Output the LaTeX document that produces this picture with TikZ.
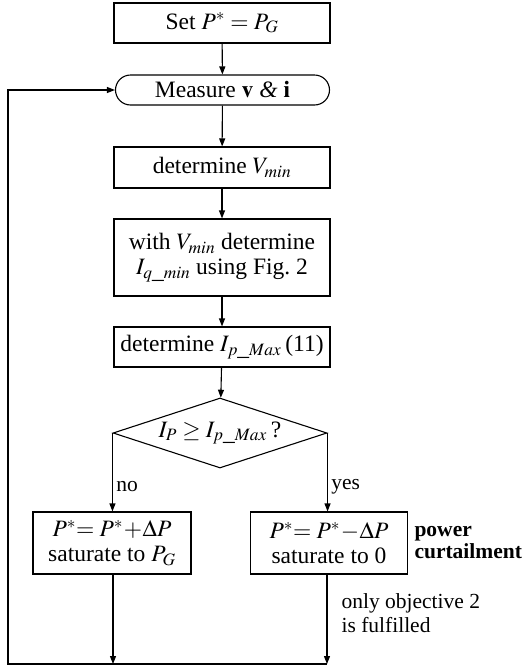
\documentclass[tikz,border=0pt]{standalone}
\usepackage{mathptmx}
\usepackage[no-math]{fontspec}
\setmainfont{Liberation Serif}
\usepackage{tikz}
\usetikzlibrary{arrows.meta, positioning, shapes.geometric}

\begin{document}
\begin{tikzpicture}[
  x=1pt, y=-1pt,
  stepbox/.style={rectangle, draw, line width=1.1pt, minimum width=216pt,
    minimum height=40pt, inner sep=2pt, align=center,
    font=\fontsize{23.5}{25}\selectfont},
  terminal/.style={stepbox, rounded corners=15pt, minimum width=214pt, minimum height=30pt},
  decision/.style={diamond, draw, line width=1.1pt, inner sep=0pt,
    minimum width=214pt, minimum height=70pt},
  arr/.style={-{Triangle[length=8pt,width=6pt]}, line width=1.1pt},
  lbl/.style={font=\fontsize{21.5}{24}\selectfont, align=left},
]

\useasboundingbox (0,0) rectangle (529,670);

\node[stepbox] (set) at (222,23) {Set $P^{*}=P_{G}$};
\node[terminal] (measure) at (222.5,90) {Measure $\mathbf{v}$ \textit{\&} $\mathbf{i}$};
\node[stepbox, minimum height=41pt] (vmin) at (222,167.5) {determine $V_{min}$};
\node[stepbox, minimum height=77pt] (iqmin) at (222,257.5) {with $V_{min}$ determine\\$I_{q\_min}$ using Fig.~2};
\node[stepbox] (ipmax) at (222,347) {determine $I_{p\_Max}$\,(11)};
\node[decision, label={[font=\fontsize{23.5}{25}\selectfont]center:$I_{P}\geq I_{p\_Max}$\,?}] (check) at (220,433) {};

\node[stepbox, minimum width=158pt, minimum height=62pt] (inc) at (112,543) {$P^{*}\!\!=P^{*}\!+\!\Delta P$\\saturate to $P_{G}$};
\node[stepbox, minimum width=157pt, minimum height=62pt] (dec) at (329,543) {$P^{*}\!\!=P^{*}\!-\!\Delta P$\\saturate to 0};

\node[lbl, anchor=west, font=\fontsize{21.5}{22}\selectfont\bfseries] (curt) at (411,543) {power\\curtailment};
\node[lbl, anchor=west] (only) at (338,613) {only objective 2\\is fulfilled};

\coordinate (loopL) at (8,664);
\coordinate (joinL) at (113,664);
\coordinate (joinR) at (327,664);

\draw[arr] (set) -- (measure);
\draw[arr] (measure) -- (vmin);
\draw[arr] (vmin) -- (iqmin);
\draw[arr] (iqmin) -- (ipmax);
\draw[arr] (ipmax) -- (check);

\draw[arr] (check.west) -- node[lbl, right, pos=0.68] {no} (check.west |- inc.north);
\draw[arr] (check.east) -- node[lbl, right, pos=0.68] {yes} (check.east |- dec.north);

\draw[arr] (inc.south -| joinL) -- (joinL);
\draw[arr] (dec.south -| joinR) -- (joinR);
\draw[arr, line join=miter] (joinR) -- (loopL) |- (measure.west);

\end{tikzpicture}
\end{document}
